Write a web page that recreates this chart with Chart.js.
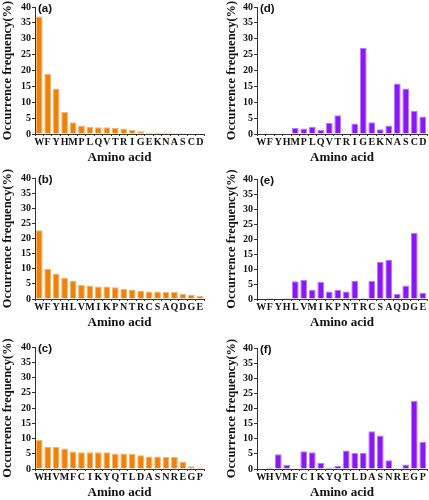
<!DOCTYPE html>
<html>
<head>
<meta charset="utf-8">
<script src="https://cdn.jsdelivr.net/npm/chart.js@4/dist/chart.umd.min.js"></script>
<style>
  body { margin: 0; background: #fff; }
  #wrap { position: relative; width: 429px; height: 500px; overflow: hidden; }
  canvas { position: absolute; }
</style>
</head>
<body>
<div id="wrap"></div>
<script>
// amino acid orders for each row
const aaRow1 = ["W","F","Y","H","M","P","L","Q","V","T","R","I","G","E","K","N","A","S","C","D"];
const aaRow2 = ["W","F","Y","H","L","V","M","I","K","P","N","T","R","C","S","A","Q","D","G","E"];
const aaRow3 = ["W","H","V","M","F","C","I","K","Y","Q","T","L","D","A","S","N","R","E","G","P"];

// occurrence frequency (%)
const freqA = [37, 19, 14.3, 7, 3.7, 2.7, 2.3, 2.1, 2.1, 1.9, 1.7, 1.3, 0.9, 0.5, 0.5, 0.5, 0.3, 0.3, 0.1, 0.1];
const freqB = [22.7, 10, 8.4, 7, 6.1, 4.7, 4.5, 4.1, 4.1, 3.9, 3.3, 3.1, 2.7, 2.5, 2.5, 2.3, 2.3, 1.7, 1.3, 1.1];
const freqC = [9.5, 7.3, 7.3, 6.7, 5.7, 5.5, 5.5, 5.5, 5.5, 5.1, 5.1, 4.9, 4.5, 4.1, 4.1, 3.9, 3.9, 2.5, 0.9, 0.5];
const freqD = [0, 0, 0, 0, 1.9, 1.7, 2.3, 1.3, 3.5, 5.9, 0, 3.3, 27.1, 3.7, 1.5, 2.7, 15.9, 14.3, 7.3, 5.5];
const freqE = [0, 0.3, 0, 0.3, 5.9, 6.3, 3.1, 5.7, 2.5, 3.1, 2.5, 6.1, 0.3, 6.1, 12.3, 13.1, 1.7, 4.5, 22.1, 2.1];
const freqF = [0, 0.5, 4.9, 1.3, 0, 5.9, 5.5, 2.1, 0.5, 1.1, 6.1, 5.3, 5.3, 12.5, 11.1, 2.9, 0, 1.5, 22.6, 8.9];

const yTicks = [0, 5, 10, 15, 20, 25, 30, 35, 40];

const orange = "#EF8108", orangeEdge = "#F6B46C";
const purple = "#8B17F7", purpleEdge = "#B57CFA";

const serif = "Liberation Serif, Times New Roman, Times, DejaVu Serif, serif";

const panels = [
  { tag: "(a)", labels: aaRow1, data: freqA, color: orange, edge: orangeEdge, left: 0,   top: 0,   w: 214, h: 165, yw: 35, padLeft: 0,  padTop: 6,  padRight: 10 },
  { tag: "(d)", labels: aaRow1, data: freqD, color: purple, edge: purpleEdge, left: 214, top: 0,   w: 215, h: 165, yw: 33, padLeft: 10, padTop: 6,  padRight: 2 },
  { tag: "(b)", labels: aaRow2, data: freqB, color: orange, edge: orangeEdge, left: 0,   top: 165, w: 214, h: 165, yw: 35, padLeft: 0,  padTop: 13, padRight: 10 },
  { tag: "(e)", labels: aaRow2, data: freqE, color: purple, edge: purpleEdge, left: 214, top: 165, w: 215, h: 165, yw: 33, padLeft: 10, padTop: 14, padRight: 2 },
  { tag: "(c)", labels: aaRow3, data: freqC, color: orange, edge: orangeEdge, left: 0,   top: 330, w: 214, h: 170, yw: 35, padLeft: 0,  padTop: 17, padRight: 10 },
  { tag: "(f)", labels: aaRow3, data: freqF, color: purple, edge: purpleEdge, left: 214, top: 330, w: 215, h: 170, yw: 33, padLeft: 10, padTop: 18, padRight: 2 }
];

// panel letter in the top-left corner of the plot
const tagPlugin = {
  id: "tag",
  afterDraw(chart, args, opts) {
    const c = chart.ctx, a = chart.chartArea;
    c.save();
    c.font = "bold 11.5px Liberation Sans, Arial, sans-serif";
    c.fillStyle = "#111";
    c.textBaseline = "middle";
    c.fillText(opts.text, a.left + 3, a.top + 2);
    c.restore();
  }
};

const wrap = document.getElementById("wrap");

panels.forEach(p => {
  const cv = document.createElement("canvas");
  cv.width = p.w; cv.height = p.h;
  cv.style.left = p.left + "px"; cv.style.top = p.top + "px";
  cv.style.width = p.w + "px"; cv.style.height = p.h + "px";
  wrap.appendChild(cv);

  new Chart(cv.getContext("2d"), {
    type: "bar",
    data: {
      labels: p.labels,
      datasets: [{
        data: p.data,
        backgroundColor: p.color,
        borderColor: p.edge,
        borderWidth: 1,
        barPercentage: 0.8,
        categoryPercentage: 1
      }]
    },
    options: {
      responsive: false,
      animation: false,
      layout: { padding: { top: p.padTop, right: p.padRight, bottom: 0, left: p.padLeft } },
      plugins: { legend: { display: false }, tooltip: { enabled: false }, tag: { text: p.tag } },
      scales: {
        x: {
          grid: { drawOnChartArea: false, tickLength: 2, color: "#333" },
          border: { color: "#333", width: 1 },
          ticks: { autoSkip: false, maxRotation: 0, padding: 0, color: "#111", font: { family: serif, weight: 700, size: 10 } },
          title: { display: true, text: "Amino acid", color: "#111", padding: { top: 2, bottom: 0 }, font: { family: serif, weight: 700, size: 13 } },
          afterFit(s) { s.height = 31; }
        },
        y: {
          min: 0, max: 40,
          grid: { drawOnChartArea: false, tickLength: 3, color: "#333" },
          border: { color: "#333", width: 1 },
          ticks: {
            stepSize: 2.5, padding: 1, color: "#111",
            font: { family: serif, weight: 700, size: 10 },
            callback: v => yTicks.includes(v) ? v : ""
          },
          title: { display: true, text: "Occurrence frequency(%)", color: "#111", padding: 0, font: { family: serif, weight: 700, size: 12.5 } },
          afterFit(s) { s.width = p.yw; }
        }
      }
    },
    plugins: [tagPlugin]
  });
});
</script>
</body>
</html>
